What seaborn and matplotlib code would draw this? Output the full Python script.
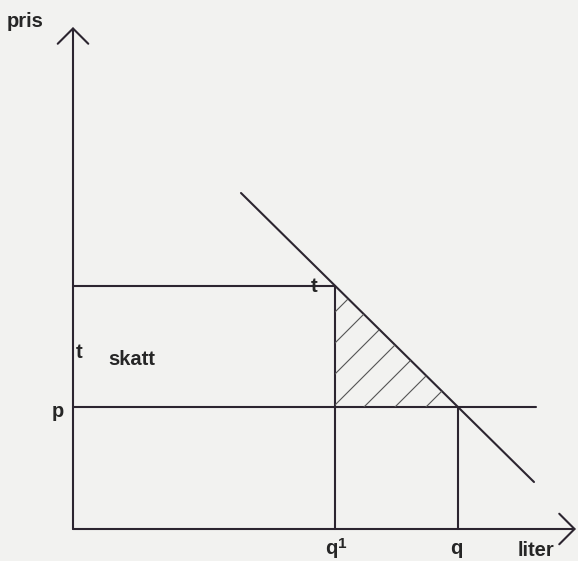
import numpy as np
import pandas as pd
import matplotlib
matplotlib.use("Agg")
import matplotlib.pyplot as plt
import seaborn as sns
from matplotlib.patches import Polygon

# ---- data (diagram units, origin at axis intersection) ----
q_tax = 262          # quantity with tax (q^1)
q_free = 385         # quantity without tax (q)
price = 122          # price p
price_tax = 243      # price incl. tax (p + t)
demand_x = [168, 461]
demand_y = [336, 47]
x_axis_end = 503
y_axis_end = 502

labels_axis = {"y": "pris", "x": "liter"}
label_skatt = "skatt"

# ---- style ----
sns.set_theme(style="white")
plt.rcParams["font.family"] = ["Liberation Sans", "DejaVu Sans"]
bg = "#f2f2f0"
ink = "#2c2530"
txt = "#262626"
lw = 1.5
fs = 14.5
fw = "bold"

fig = plt.figure(figsize=(5.78, 5.61), dpi=100, facecolor=bg)
ax = fig.add_axes([0, 0, 1, 1], facecolor=bg)
ax.set_xlim(-73, 505)
ax.set_ylim(-32, 529)
ax.axis("off")

# axes with arrows
arrow = dict(arrowstyle="->, head_length=0.55, head_width=0.55", lw=lw,
             color=ink, shrinkA=0, shrinkB=0, mutation_scale=20)
ax.annotate("", xy=(x_axis_end, 0), xytext=(0, 0), arrowprops=arrow)
ax.annotate("", xy=(0, y_axis_end), xytext=(0, 0), arrowprops=arrow)

# demand line
demand = pd.DataFrame({"x": demand_x, "y": demand_y})
sns.lineplot(data=demand, x="x", y="y", ax=ax, color=ink, lw=lw)

# price levels and quantity drops
ax.plot([0, q_tax], [price_tax, price_tax], color=ink, lw=lw)
ax.plot([0, demand_x[1] + 2], [price, price], color=ink, lw=lw)
ax.plot([q_tax, q_tax], [0, price_tax], color=ink, lw=lw)
ax.plot([q_free, q_free], [0, price], color=ink, lw=lw)

# hatched deadweight-loss triangle
tri = Polygon([[q_tax, price_tax], [q_tax, price], [q_free, price]],
              closed=True, facecolor="none", edgecolor="none")
ax.add_patch(tri)
c_top = price_tax - q_tax
c_low = price - q_free
hatch_spacing = 31
xs = np.array([q_tax - 10, q_free + 10])
for c in np.arange(c_top - 26, c_low + 5, -hatch_spacing):
    ln, = ax.plot(xs, xs + c, color="#555555", lw=0.8)
    ln.set_clip_path(tri)

# labels
tk = dict(fontsize=fs, color=txt, ha="center", va="baseline", weight=fw)
ax.text(-47.5, 502, labels_axis["y"], **tk)
ax.text(463, -27, labels_axis["x"], **tk)
ax.text(6, 171, "t", **tk)
ax.text(59, 164, label_skatt, **tk)
ax.text(-15.5, 112, "p", **tk)
ax.text(241, 237, "t", **tk)
ax.text(q_tax - 3.5, -25, "q", **tk)
ax.text(q_tax + 7, -19, "1", fontsize=11, color=txt, ha="center", va="baseline", weight=fw)
ax.text(q_free - 1.5, -25, "q", **tk)

fig.savefig("out.png", dpi=100, facecolor=bg)
